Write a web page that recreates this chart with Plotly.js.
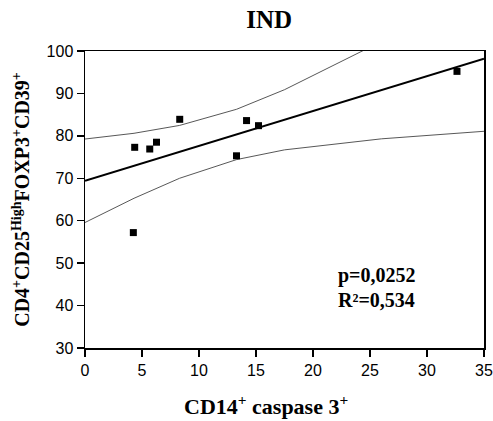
<!DOCTYPE html>
<html><head><meta charset="utf-8">
<script src="https://cdn.plot.ly/plotly-3.0.1.min.js"></script>
<style>html,body{margin:0;padding:0;background:#fff}#chart{width:493px;height:421px}</style>
</head><body><div id="chart"></div>
<script>
// Data
const xValues = [4.36, 5.68, 6.27, 8.31, 14.17, 15.22, 13.29, 4.24, 32.63];
const yValues = [77.3, 76.9, 78.5, 83.9, 83.6, 82.4, 75.3, 57.2, 95.2];
const fitRange = [0, 35];
const bandX = [0, 4.3, 8.3, 13.3, 17.5, 26, 35];
const tValue = 2.365; // t(0.975, df=7)
const xTicks = [0, 5, 10, 15, 20, 25, 30, 35];
const yTicks = [30, 40, 50, 60, 70, 80, 90, 100];

// Linear regression
const n = xValues.length;
const mx = xValues.reduce((a,b)=>a+b,0)/n;
const my = yValues.reduce((a,b)=>a+b,0)/n;
let sxy=0, sxx=0;
for (let i=0;i<n;i++){ sxy+=(xValues[i]-mx)*(yValues[i]-my); sxx+=(xValues[i]-mx)**2; }
const slope = sxy/sxx, icpt = my - slope*mx;
let sse=0; for (let i=0;i<n;i++){ sse += (yValues[i]-(icpt+slope*xValues[i]))**2; }
const s = Math.sqrt(sse/(n-2));
const fitY = fitRange.map(x=>icpt+slope*x);
const half = bandX.map(x=>tValue*s*Math.sqrt(1/n + (x-mx)**2/sxx));
const upY = bandX.map((x,i)=>icpt+slope*x+half[i]);
const loY = bandX.map((x,i)=>icpt+slope*x-half[i]);

const serif = 'Liberation Serif, Times New Roman, serif';
const sans = 'Liberation Sans, Arial, sans-serif';

const traces = [
  {x: bandX, y: upY, mode:'lines', line:{color:'#444', width:0.9}, hoverinfo:'skip'},
  {x: bandX, y: loY, mode:'lines', line:{color:'#444', width:0.9}, hoverinfo:'skip'},
  {x: fitRange, y: fitY, mode:'lines', line:{color:'#000', width:2}},
  {x: xValues, y: yValues, mode:'markers', marker:{symbol:'square', size:7, color:'#000'}}
];

const layout = {
  width:493, height:421, showlegend:false,
  paper_bgcolor:'#fff', plot_bgcolor:'#fff',
  margin:{l:85, r:9, t:51, b:73},
  title:{text:'<b>IND</b>', font:{family:serif, size:25, color:'#000'}, x:0.546, xanchor:'center', y:0.975, yanchor:'top'},
  xaxis:{range:[0,35], tickvals:xTicks, ticktext:xTicks.map(String), showgrid:false, zeroline:false,
    showline:true, linecolor:'#000', linewidth:1.5, mirror:true, ticks:'outside', ticklen:7, tickwidth:1.5, tickcolor:'#000',
    tickfont:{family:sans, size:16, color:'#000'}},
  yaxis:{range:[30,100], tickvals:yTicks, ticktext:yTicks.map(String), showgrid:false, zeroline:false,
    showline:true, linecolor:'#000', linewidth:1.5, mirror:true, ticks:'outside', ticklen:7, tickwidth:1.5, tickcolor:'#000',
    tickfont:{family:sans, size:16, color:'#000'},
    title:{text:'<b>CD4<sup>+</sup>CD25<sup>High</sup>FOXP3<sup>+</sup>CD39<sup>+</sup></b>', font:{family:serif, size:20, color:'#000'}, standoff:11}},
  annotations:[
    {xref:'paper', yref:'paper', x:0.4536, y:-0.245, xanchor:'center', yanchor:'bottom', showarrow:false,
     text:'<b>CD14<sup>+</sup> caspase 3<sup>+</sup></b>', font:{family:serif, size:22, color:'#000'}},
    {xref:'paper', yref:'paper', x:0.628, y:0.20, xanchor:'left', yanchor:'bottom', showarrow:false, align:'left',
     text:'<b>p=0,0252</b>', font:{family:serif, size:20, color:'#000'}},
    {xref:'paper', yref:'paper', x:0.628, y:0.205, xanchor:'left', yanchor:'top', showarrow:false, align:'left',
     text:'<b>R²=0,534</b>', font:{family:serif, size:20, color:'#000'}}
  ]
};
Plotly.newPlot('chart', traces, layout, {staticPlot:true});
</script></body></html>
